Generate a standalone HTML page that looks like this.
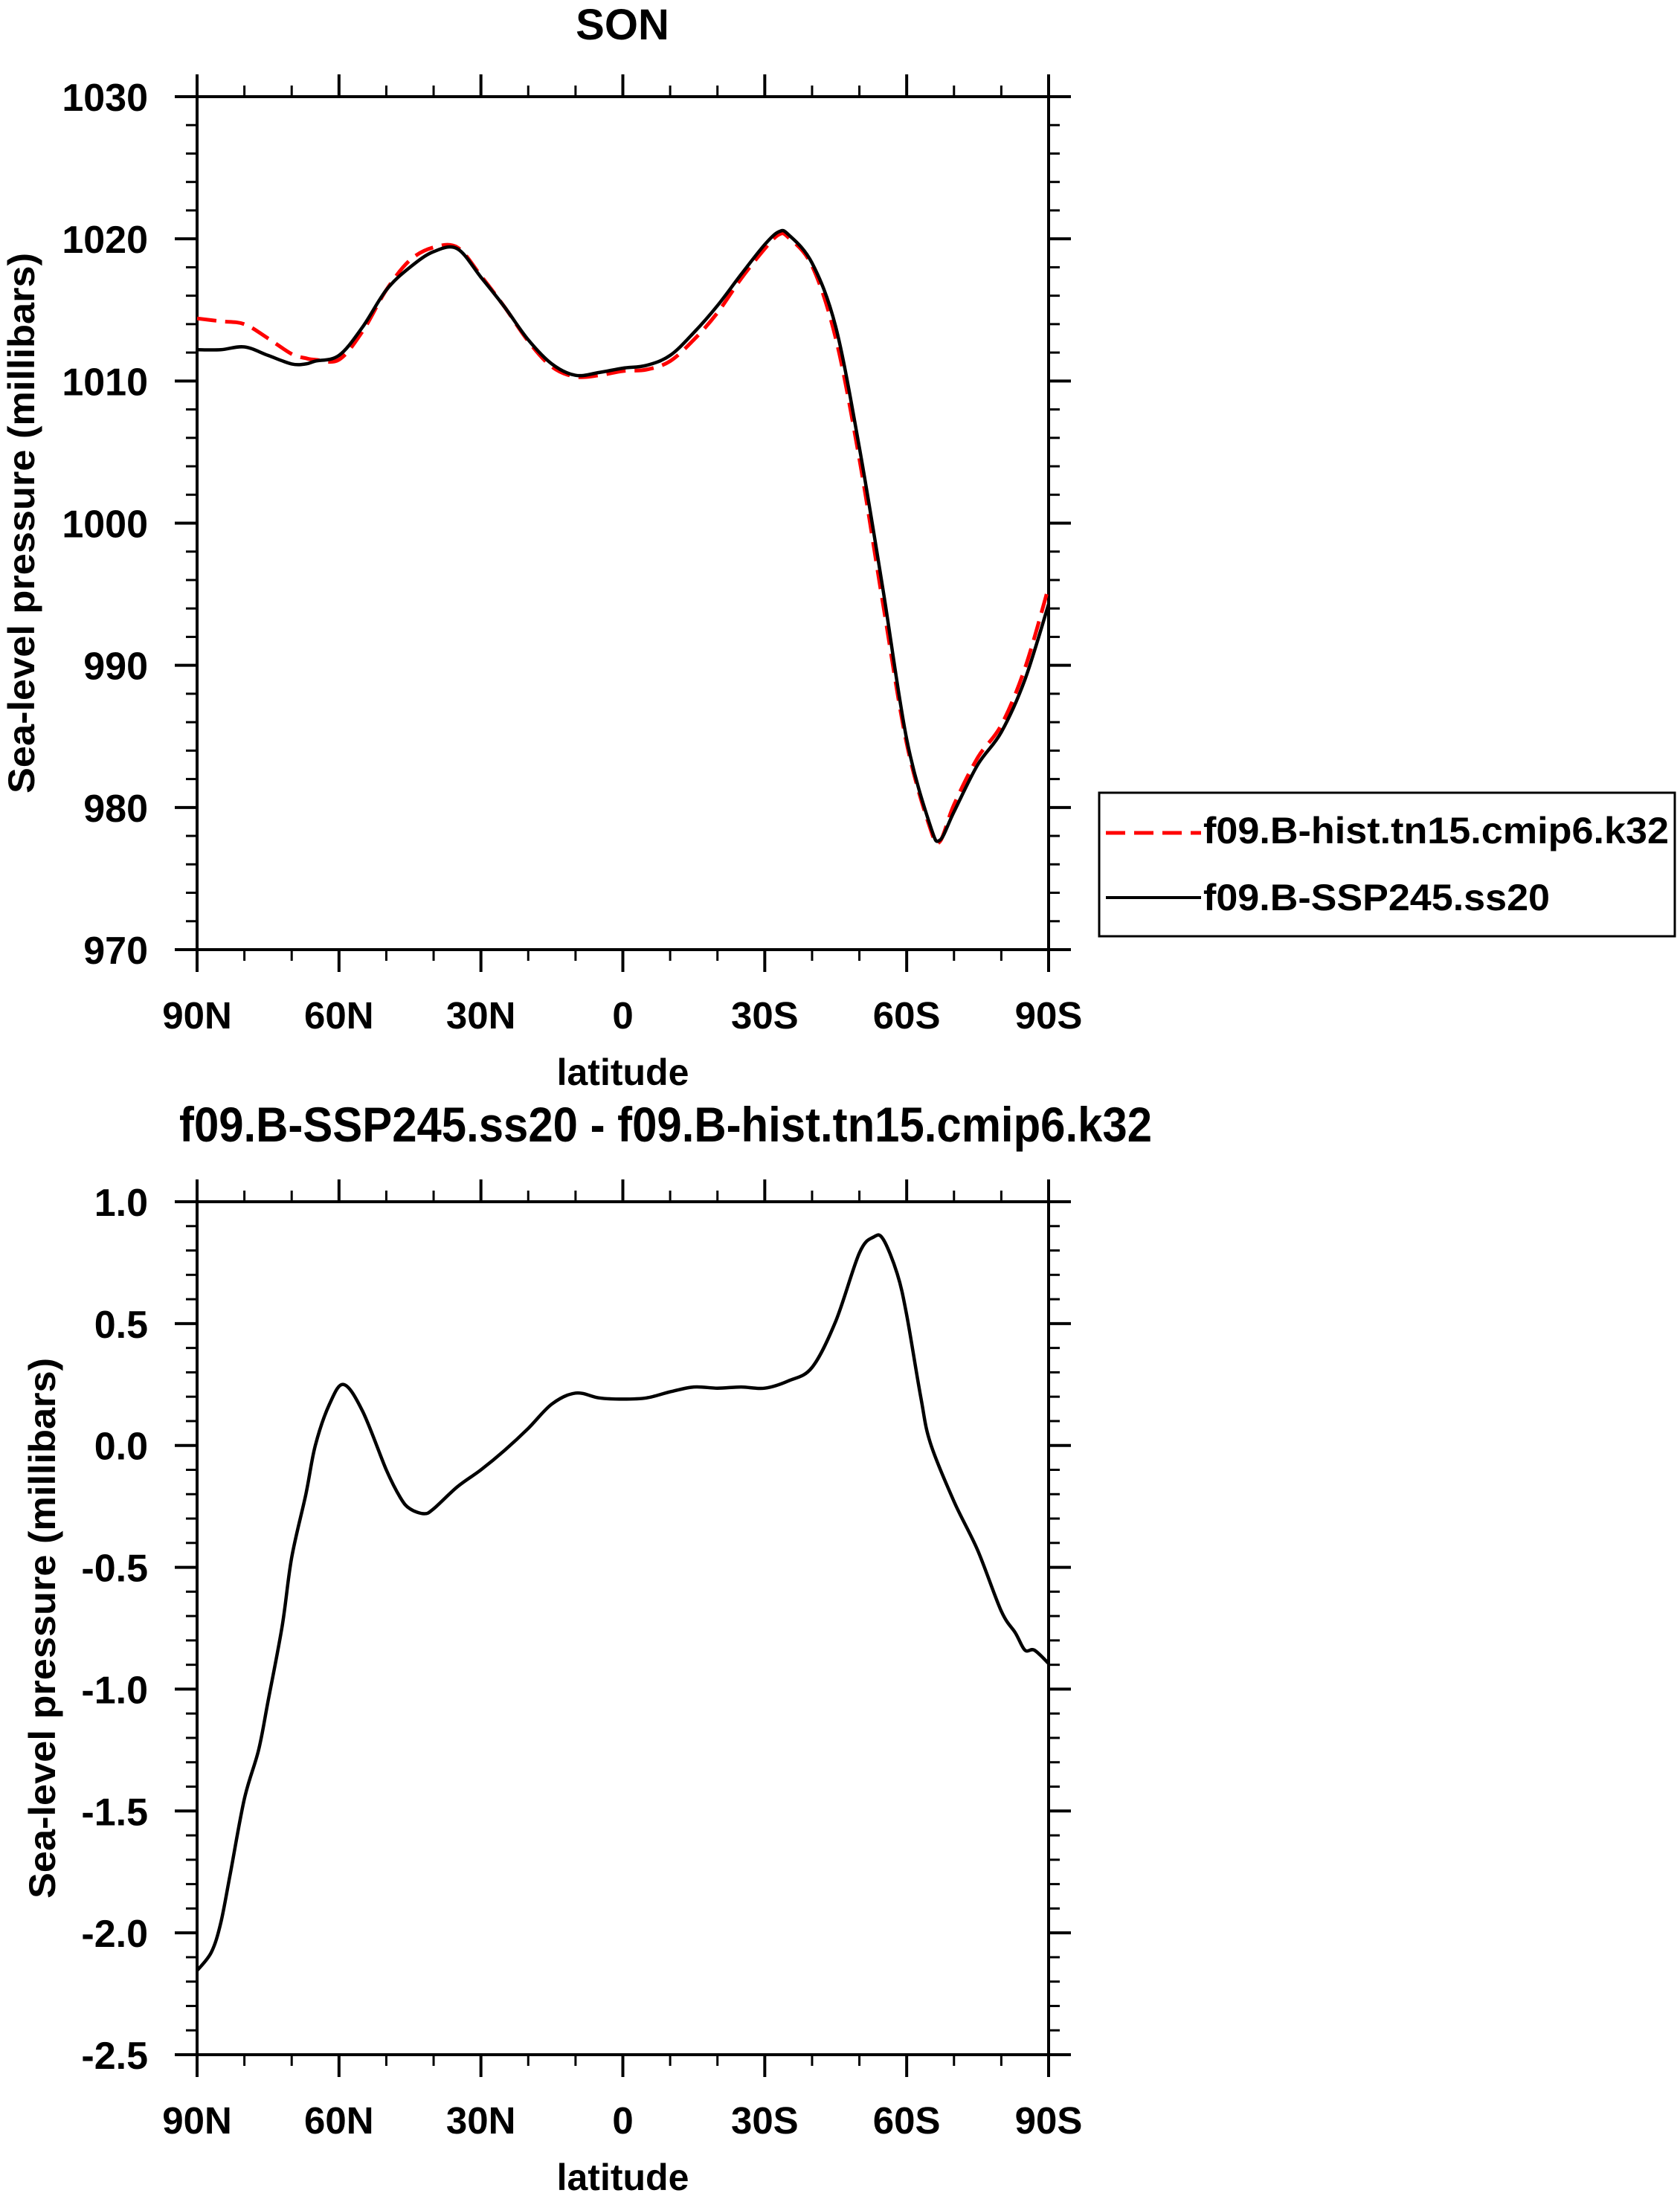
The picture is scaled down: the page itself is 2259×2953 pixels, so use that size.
<!DOCTYPE html>
<html><head><meta charset="utf-8"><style>
html,body{margin:0;padding:0;background:#fff}
svg{display:block}
text{font-family:"Liberation Sans",sans-serif;font-weight:bold;fill:#000}
</style></head><body>
<svg id="chart" width="2259" height="2953" viewBox="0 0 2259 2953" xmlns="http://www.w3.org/2000/svg">
<g id="top"></g>
<g id="bot"></g>
</svg>
<script>
const latTop = [90,85,80,75,70,67,65,60,55,50,45,40,35,30,25,20,15,10,5,0,-5,-10,-15,-20,-25,-30,-33,-35,-40,-45,-50,-55,-60,-65,-67,-70,-75,-80,-85,-90];
const ssp245 = [1012.2,1012.2,1012.4,1011.8,1011.2,1011.2,1011.4,1011.8,1013.8,1016.4,1018.0,1019.1,1019.3,1017.3,1015.2,1012.9,1011.2,1010.4,1010.6,1010.9,1011.1,1011.8,1013.4,1015.3,1017.5,1019.6,1020.5,1020.3,1018.3,1013.8,1005.3,995.3,984.8,978.7,977.7,979.7,983.0,985.3,989.0,994.3];
const hist = [1014.4,1014.2,1014.0,1013.0,1011.9,1011.6,1011.5,1011.5,1013.5,1016.4,1018.5,1019.4,1019.4,1017.4,1015.2,1012.8,1011.0,1010.3,1010.4,1010.7,1010.8,1011.4,1012.9,1014.8,1017.2,1019.3,1020.3,1020.1,1018.1,1013.0,1004.5,994.3,984.5,978.5,977.6,980.2,983.5,985.8,989.8,995.5];
const latDiff = [90,87,85,83,80,77,75,72,70,67,65,62,59,55,50,47,45,42,40,35,30,25,20,15,10,5,0,-5,-10,-15,-20,-25,-30,-35,-40,-45,-50,-53,-55,-58,-60,-63,-65,-70,-75,-80,-83,-85,-87,-90];
const diff = [-2.155,-2.08,-1.96,-1.76,-1.45,-1.25,-1.05,-0.74,-0.46,-0.20,0.0,0.17,0.25,0.14,-0.10,-0.215,-0.26,-0.28,-0.26,-0.17,-0.10,-0.02,0.07,0.17,0.215,0.195,0.19,0.195,0.22,0.24,0.235,0.24,0.235,0.265,0.32,0.51,0.79,0.855,0.847,0.705,0.535,0.195,0.01,-0.23,-0.43,-0.68,-0.77,-0.84,-0.84,-0.895];
const xTickVals = [90,60,30,0,-30,-60,-90];
const xTickLabels = ["90N","60N","30N","0","30S","60S","90S"];
const yTopTicks = [1030,1020,1010,1000,990,980,970];
const yBotTicks = [1.0,0.5,0.0,-0.5,-1.0,-1.5,-2.0,-2.5];
const yBotLabels = ["1.0","0.5","0.0","-0.5","-1.0","-1.5","-2.0","-2.5"];

const NS="http://www.w3.org/2000/svg";
function mk(parent,tag,attrs,txt){const e=document.createElementNS(NS,tag);for(const k in attrs)e.setAttribute(k,attrs[k]);if(txt!==undefined)e.textContent=txt;parent.appendChild(e);return e;}
const L=265,R=1410;
function xs(lat){return L+(90-lat)/180*(R-L);}
function smooth(pts){let d="M"+pts[0][0].toFixed(1)+","+pts[0][1].toFixed(1);
 for(let i=0;i<pts.length-1;i++){const p0=pts[Math.max(0,i-1)],p1=pts[i],p2=pts[i+1],p3=pts[Math.min(pts.length-1,i+2)];
  const c1=[p1[0]+(p2[0]-p0[0])/6,p1[1]+(p2[1]-p0[1])/6],c2=[p2[0]-(p3[0]-p1[0])/6,p2[1]-(p3[1]-p1[1])/6];
  d+=" C"+c1[0].toFixed(1)+","+c1[1].toFixed(1)+" "+c2[0].toFixed(1)+","+c2[1].toFixed(1)+" "+p2[0].toFixed(1)+","+p2[1].toFixed(1);}
 return d;}
function panel(g,T,B,ymax,ymin,yticks,ylabels,minorStep,ytitleX){
 const ys=v=>T+(ymax-v)/(ymax-ymin)*(B-T);
 for(let v=ymin;v<=ymax+1e-9;v+=minorStep){const y=ys(v);
  let t=mk(g,'line',{x1:L-15,x2:L,y1:y,y2:y,stroke:'#000','stroke-width':3});
  
  
  t=mk(g,'line',{x1:R,x2:R+15,y1:y,y2:y,stroke:'#000','stroke-width':3});
  
  }
 yticks.forEach((v,i)=>{const y=ys(v);
  let t=mk(g,'line',{x1:L-30,x2:L,y1:y,y2:y,stroke:'#000','stroke-width':4});
  
  
  t=mk(g,'line',{x1:R,x2:R+30,y1:y,y2:y,stroke:'#000','stroke-width':4});
  
  
  const lb=mk(g,'text',{x:199,y:y+19,'text-anchor':'end','font-size':52},ylabels[i]);
  
  });
 for(let lat=80;lat>-90;lat-=10){if(lat%30===0)continue;const x=xs(lat);
  let t=mk(g,'line',{x1:x,x2:x,y1:T-15,y2:T,stroke:'#000','stroke-width':3});
  
  
  t=mk(g,'line',{x1:x,x2:x,y1:B,y2:B+15,stroke:'#000','stroke-width':3});
  
  }
 xTickVals.forEach((v,i)=>{const x=xs(v);
  let t=mk(g,'line',{x1:x,x2:x,y1:T-30,y2:T,stroke:'#000','stroke-width':4});
  
  
  t=mk(g,'line',{x1:x,x2:x,y1:B,y2:B+30,stroke:'#000','stroke-width':4});
  
  
  const lb=mk(g,'text',{x:x,y:B+106,'text-anchor':'middle','font-size':51},xTickLabels[i]);
  
  });
 const fr=mk(g,'rect',{x:L,y:T,width:R-L,height:B-T,fill:'none',stroke:'#000','stroke-width':4});
 
 
 const xt=mk(g,'text',{x:(L+R)/2,y:B+182,'text-anchor':'middle','font-size':50},'latitude');
 
 
 const cy=(T+B)/2;
 const yt=mk(g,'text',{x:ytitleX,y:cy,'text-anchor':'middle','font-size':50,textLength:727,lengthAdjust:'spacingAndGlyphs',transform:`rotate(-90 ${ytitleX} ${cy})`},'Sea-level pressure (millibars)');
 
 
 return ys;}

const gt=document.getElementById('top');
const ysT=panel(gt,130,1277,1030,970,yTopTicks,yTopTicks.map(String),2,46);
let p=mk(gt,'path',{d:smooth(latTop.map((l,i)=>[xs(l),ysT(hist[i])])),fill:'none',stroke:'#ff0000','stroke-width':5,'stroke-dasharray':'26 12'});


p=mk(gt,'path',{d:smooth(latTop.map((l,i)=>[xs(l),ysT(ssp245[i])])),fill:'none',stroke:'#000','stroke-width':4.5});


let t=mk(gt,'text',{x:837,y:53,'text-anchor':'middle','font-size':58},'SON');


const lg=mk(gt,'g',{});


let r=mk(lg,'rect',{x:1478,y:1066,width:774,height:193,fill:'#fff',stroke:'#000','stroke-width':3});


let e=mk(lg,'line',{x1:1487,x2:1615,y1:1120,y2:1120,stroke:'#ff0000','stroke-width':5,'stroke-dasharray':'26 12'});


e=mk(lg,'text',{x:1618,y:1134,'font-size':50,textLength:626,lengthAdjust:'spacingAndGlyphs'},'f09.B-hist.tn15.cmip6.k32');


e=mk(lg,'line',{x1:1487,x2:1615,y1:1207,y2:1207,stroke:'#000','stroke-width':4});


e=mk(lg,'text',{x:1618,y:1224,'font-size':50,textLength:466,lengthAdjust:'spacingAndGlyphs'},'f09.B-SSP245.ss20');



const gb=document.getElementById('bot');
const ysB=panel(gb,1616,2763,1.0,-2.5,yBotTicks,yBotLabels,0.1,74);
p=mk(gb,'path',{d:smooth(latDiff.map((l,i)=>[xs(l),ysB(diff[i])])),fill:'none',stroke:'#000','stroke-width':4.5});


t=mk(gb,'text',{x:241,y:1535,'font-size':66,textLength:1308,lengthAdjust:'spacingAndGlyphs'},'f09.B-SSP245.ss20 - f09.B-hist.tn15.cmip6.k32');


</script>
</body></html>
